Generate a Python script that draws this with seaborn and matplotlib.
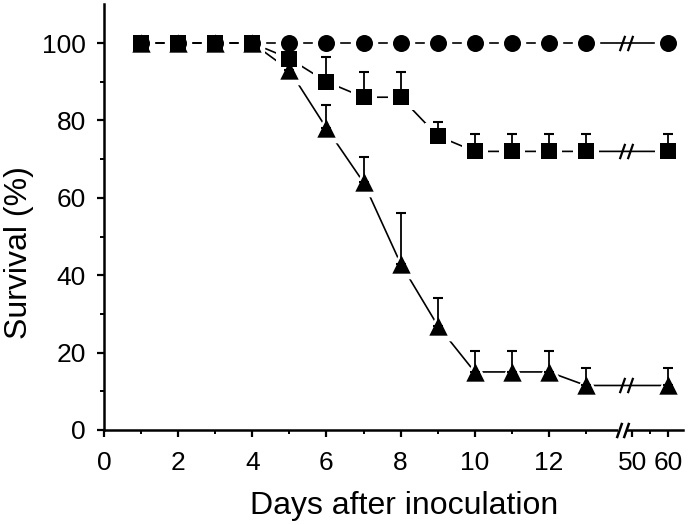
import numpy as np
import matplotlib
matplotlib.use('Agg')
import matplotlib.pyplot as plt
import matplotlib.transforms as mtransforms
import seaborn as sns

# ---------------------------------------------------------------
# data
# ---------------------------------------------------------------
days = [1, 2, 3, 4, 5, 6, 7, 8, 9, 10, 11, 12, 13, 60]

control = [100, 100, 100, 100, 100, 100, 100, 100, 100, 100, 100, 100, 100, 100]
control_err = [0, 0, 0, 0, 0, 0, 0, 0, 0, 0, 0, 0, 0, 0]

squares = [100, 100, 100, 100, 96, 90, 86, 86, 76, 72, 72, 72, 72, 72]
squares_err = [0, 0, 0, 0, 3, 6.5, 6.5, 6.5, 3.5, 4.5, 4.5, 4.5, 4.5, 4.5]

triangles = [100, 100, 100, 100, 93, 78, 64, 43, 27, 15, 15, 15, 11.5, 11.5]
triangles_err = [0, 0, 0, 0, 2, 6, 6.5, 13, 7, 5.5, 5.5, 5.5, 4.5, 4.5]

x_major = [0, 2, 4, 6, 8, 10, 12, 50, 60]
x_minor = [1, 3, 5, 7, 9, 11, 13, 55]

# ---------------------------------------------------------------
# broken x scale: 0-14 linear, 14-47.5 squeezed, 47.5+ compressed
# ---------------------------------------------------------------
B1, B2, EPS, K = 14.0, 47.5, 1e-4, 0.0971


def fwd(x):
    x = np.asarray(x, dtype=float)
    return np.where(x <= B1, x,
                    np.where(x <= B2, B1 + (x - B1) * EPS,
                             B1 + (B2 - B1) * EPS + (x - B2) * K))


def inv(y):
    y = np.asarray(y, dtype=float)
    y2 = B1 + (B2 - B1) * EPS
    return np.where(y <= B1, y,
                    np.where(y <= y2, B1 + (y - B1) / EPS,
                             B2 + (y - y2) / K))


sns.set_style('ticks')
plt.rcParams['font.family'] = ['Liberation Sans', 'DejaVu Sans']
plt.rcParams['axes.linewidth'] = 1.8
plt.rcParams['axes.edgecolor'] = 'black'
plt.rcParams['axes.labelcolor'] = 'black'
plt.rcParams['text.color'] = 'black'

fig = plt.figure(figsize=(6.89, 5.25), dpi=100)
ax = fig.add_axes([0.1509, 0.1810, 0.8403, 0.8107])
ax.set_xscale('function', functions=(fwd, inv))
ax.set_xlim(0, 64.1)
ax.set_ylim(0, 110)

series = [
    (control, control_err, 'o', 150),
    (squares, squares_err, 's', 125),
    (triangles, triangles_err, '^', 175),
]

# 1. connecting lines
for vals, err, mk, s in series:
    sns.lineplot(x=days, y=vals, ax=ax, color='black', linewidth=1.2,
                 errorbar=None, sort=False, zorder=1)

# 2. white halos so lines stop short of the symbols
for vals, err, mk, s in series:
    sns.scatterplot(x=days, y=vals, ax=ax, marker=mk, s=s * 2.6,
                    color='white', linewidth=0, zorder=2)

# 3. upper error bars
for vals, err, mk, s in series:
    ax.errorbar(days, vals, yerr=[np.zeros(len(err)), err], fmt='none',
                ecolor='black', elinewidth=1.3, capsize=3.5, capthick=1.5,
                zorder=3)

# 4. symbols
for vals, err, mk, s in series:
    sns.scatterplot(x=days, y=vals, ax=ax, marker=mk, s=s,
                    color='black', linewidth=0, zorder=4)

# break marks on the lines and on the x axis
slash = [(-0.35, -1), (0.35, 1)]
blend = mtransforms.blended_transform_factory(ax.transAxes, ax.transData)
for vals in (control, squares, triangles):
    ax.plot([0.8946, 0.9085], [vals[-1], vals[-1]], transform=blend,
            linestyle='none', marker=slash, markersize=11,
            markeredgewidth=1.6, color='black', zorder=5)
ax.plot([0.891, 0.900], [0, 0], transform=ax.transAxes,
        color='white', linewidth=3, clip_on=False, zorder=6)
ax.plot([0.889, 0.902], [0, 0], transform=ax.transAxes, linestyle='none',
        marker=slash, markersize=11, markeredgewidth=1.8, color='black',
        clip_on=False, zorder=7)

# axes styling
sns.despine(ax=ax)
ax.set_xticks(x_major)
ax.set_xticklabels([str(v) for v in x_major])
ax.set_xticks(x_minor, minor=True)
ax.set_yticks([0, 20, 40, 60, 80, 100])
ax.set_yticks([10, 30, 50, 70, 90], minor=True)
ax.tick_params(axis='both', which='major', direction='out', length=5,
               width=1.6, labelsize=19, colors='black')
ax.tick_params(axis='x', which='major', pad=10)
ax.tick_params(axis='y', which='major', pad=8)
ax.tick_params(axis='both', which='minor', direction='out', length=3,
               width=1.4, colors='black')
ax.set_xlabel('Days after inoculation', fontsize=23, color='black')
ax.set_ylabel('Survival (%)', fontsize=23, color='black')
ax.xaxis.set_label_coords(0.518, -0.143)
ax.yaxis.set_label_coords(-0.12, 0.418)

fig.savefig('out.png', dpi=100)
